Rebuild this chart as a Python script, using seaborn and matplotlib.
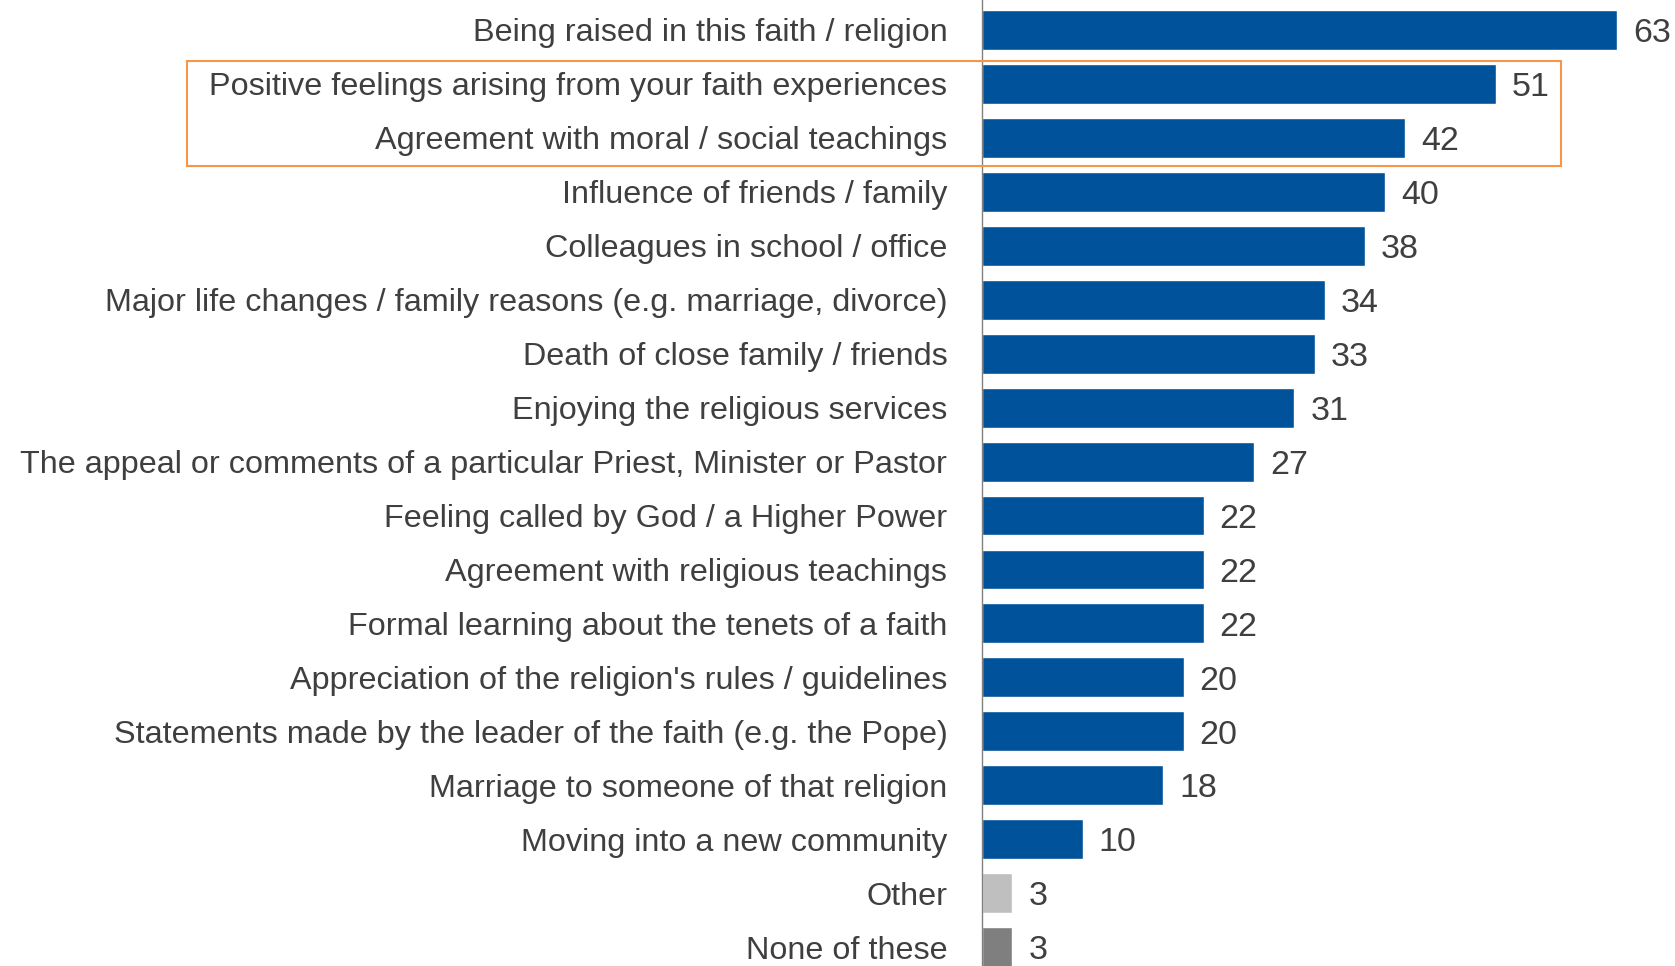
import matplotlib
matplotlib.use("Agg")
import matplotlib.pyplot as plt
import matplotlib.transforms as mtransforms
from matplotlib.patches import Rectangle
import seaborn as sns
import pandas as pd

categories = [
    "Being raised in this faith / religion",
    "Positive feelings arising from your faith experiences",
    "Agreement with moral / social teachings",
    "Influence of friends / family",
    "Colleagues in school / office",
    "Major life changes / family reasons (e.g. marriage, divorce)",
    "Death of close family / friends",
    "Enjoying the religious services",
    "The appeal or comments of a particular Priest, Minister or Pastor",
    "Feeling called by God / a Higher Power",
    "Agreement with religious teachings",
    "Formal learning about the tenets of a faith",
    "Appreciation of the religion's rules / guidelines",
    "Statements made by the leader of the faith (e.g. the Pope)",
    "Marriage to someone of that religion",
    "Moving into a new community",
    "Other",
    "None of these",
]
values = [63, 51, 42, 40, 38, 34, 33, 31, 27, 22, 22, 22, 20, 20, 18, 10, 3, 3]
groups = ["main"] * 16 + ["other", "none"]

palette = {"main": "#00539B", "other": "#BFBFBF", "none": "#7F7F7F"}
text_color = "#3F3F3F"

df = pd.DataFrame({"category": categories, "value": values, "group": groups})

sns.set_theme(style="white")
plt.rcParams["font.family"] = ["Liberation Sans", "DejaVu Sans"]

fig = plt.figure(figsize=(16.75, 9.66), dpi=100)
ax = fig.add_axes([982 / 1675, 0, 1 - 982 / 1675, 1])

sns.barplot(data=df, x="value", y="category", hue="group", palette=palette,
            dodge=False, legend=False, width=0.74, ax=ax, saturation=1)

ax.set_xlim(0, 68.75)
ax.set_ylim(17.35, -0.556)
ax.set_xlabel("")
ax.set_ylabel("")
ax.set_xticks([])
for s in ["top", "right", "bottom"]:
    ax.spines[s].set_visible(False)
ax.spines["left"].set_color("#808080")
ax.spines["left"].set_linewidth(1.0)
ax.tick_params(axis="y", length=0, pad=25, labelsize=23.3, labelcolor=text_color)

num_size = 24.5
num_trans = mtransforms.offset_copy(ax.transData, fig=fig, x=11.5,
                                    y=-0.358 * num_size, units="points")
for i, v in enumerate(values):
    ax.text(v, i, f"{v}", va="baseline", ha="left", fontsize=num_size,
            color=text_color, transform=num_trans)

# highlight box around rows 1-2
trans = mtransforms.blended_transform_factory(fig.transFigure, ax.transData)
x0 = 187 / 1675
x1 = 1561 / 1675
rect = Rectangle((x0, 0.575), x1 - x0, 2.516 - 0.575, transform=trans,
                 fill=False, edgecolor="#F79646", linewidth=1.5, clip_on=False)
fig.patches.append(rect)

fig.savefig("out.png", dpi=100)
